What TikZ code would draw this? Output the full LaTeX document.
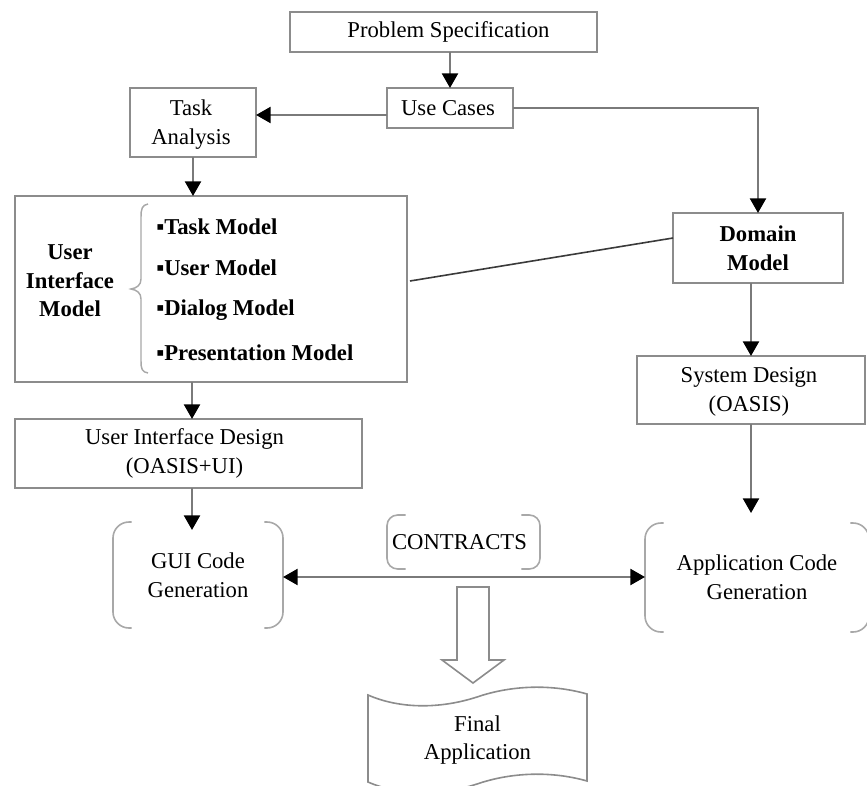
\documentclass[tikz,border=0pt]{standalone}
\usepackage{fontspec}
\setmainfont{Liberation Serif}
\usetikzlibrary{arrows.meta,fit,calc}

\definecolor{boxgray}{HTML}{8C8C8C}
\definecolor{linegray}{HTML}{7A7A7A}
\definecolor{bracketgray}{HTML}{A8A8A8}
\definecolor{linkgray}{HTML}{3A3A3A}

\newcommand\diagfont{\fontsize{17pt}{21.5pt}\selectfont}

\begin{document}
\begin{tikzpicture}[x=0.75pt,y=-0.75pt,
  box/.style={draw=boxgray, line width=1.3pt, inner sep=0pt, outer sep=0pt},
  openbox/.style={inner sep=0pt, outer sep=0pt},
  label/.style={inner sep=0pt, align=center, font=\diagfont},
  flow/.style={draw=linegray, line width=1.8pt,
    -{Triangle[width=12pt,length=11pt,color=black]}},
  twoway/.style={draw=linegray, line width=1.8pt,
    {Triangle[width=12pt,length=11pt,color=black]}-{Triangle[width=12pt,length=11pt,color=black]}},
  link/.style={draw=linkgray, line width=1.2pt},
  bracket/.style={draw=bracketgray, line width=1.2pt, rounded corners=12pt},
  smallbracket/.style={draw=bracketgray, line width=1.2pt, rounded corners=8pt},
  outline/.style={draw=boxgray, line width=1.2pt, fill=white}
]
\useasboundingbox (0,0) rectangle (867,785);

% ---- boxes ----
\node[box, fit={(290,12) (597,52)}] (ps) {};
\node[box, fit={(387,88) (513,128)}] (uc) {};
\node[box, fit={(130,88) (256,157)}] (ta) {};
\node[box, fit={(15,196) (407,382)}] (uim) {};
\node[box, fit={(673,213) (843,283)}] (dm) {};
\node[box, fit={(637,356) (865,424)}] (sd) {};
\node[box, fit={(15,419) (362,488)}] (uid) {};

\node[label] (pst) at ($(ps.center)+(5,0)$) {Problem Specification};
\node[label] (uct) at ($(uc.center)+(-2,0)$) {Use Cases};
\node[label] (tat) at ($(ta.center)+(-2,2)$) {Task\\Analysis};
\node[label, font=\diagfont\bfseries] (dmt) at (dm.center) {Domain\\Model};
\node[label] (sdt) at ($(sd.center)+(-2,2)$) {System Design\\(OASIS)};
\node[label] (uidt) at ($(uid.center)+(-4,0)$) {User Interface Design\\(OASIS+UI)};

% ---- contents of the user interface model ----
\node[label, font=\diagfont\bfseries] (uimt) at (70,281) {User\\Interface\\Model};
\draw[draw=bracketgray, line width=1.1pt]
  (148,204) .. controls (142,205) and (141,209) .. (141,217)
  -- (141,279) .. controls (141,285) and (137,288) .. (131,289)
  .. controls (137,290) and (141,293) .. (141,299)
  -- (141,361) .. controls (141,369) and (142,372) .. (148,373);
\node[label, anchor=west, font=\diagfont\bfseries] (m1) at (156,227) {▪Task Model};
\node[label, anchor=west, font=\diagfont\bfseries] (m2) at (156,268) {▪User Model};
\node[label, anchor=west, font=\diagfont\bfseries] (m3) at (156,310) {▪Dialog Model};
\node[label, anchor=west, font=\diagfont\bfseries] (m4) at (156,353) {▪Presentation Model};

% ---- code generation blocks (side brackets only) ----
\node[openbox, fit={(113,522) (283,628)}] (gui) {};
\node[openbox, fit={(645,523) (869,632)}] (app) {};
\node[openbox, fit={(387,515) (540,569)}] (ct) {};
\foreach \n/\s in {gui/bracket, app/bracket, ct/smallbracket}{
  \draw[\s] ([xshift=14pt]\n.north west) -- (\n.north west)
    -- (\n.south west) -- ([xshift=14pt]\n.south west);
  \draw[\s] ([xshift=-14pt]\n.north east) -- (\n.north east)
    -- (\n.south east) -- ([xshift=-14pt]\n.south east);
}
\node[label] (guit) at (gui.center) {GUI Code\\Generation};
\node[label] (appt) at (app.center) {Application Code\\Generation};
\node[label] (ctt) at ($(ct.center)+(-4,0)$) {CONTRACTS};

% ---- final application (punched tape) ----
\draw[outline]
  (368,695) .. controls (400,709) and (440,709) .. (477,697)
  .. controls (512,685) and (552,684) .. (587,694)
  -- (587,781) .. controls (552,771) and (512,772) .. (477,784)
  .. controls (440,796) and (400,796) .. (368,782) -- cycle;
\node[openbox, fit={(368,700) (587,780)}] (fa) {};
\node[label] (fat) at (fa.center) {Final\\Application};

% ---- block arrow from contracts to the final application ----
\draw[outline] (457,587) -- (489,587) -- (489,660) -- (504,660)
  -- (473,683) -- (442,660) -- (457,660) -- cycle;

% ---- connectors ----
\draw[flow] (uc.north |- ps.south) -- (uc.north);
\coordinate (ucw) at ($(uc.west)+(0,7)$);
\draw[flow] (ucw) -- (ucw -| ta.east);
\draw[flow] (uc.east) -| (dm.north);
\draw[flow] (ta.south) -- (ta.south |- uim.north);
\draw[link] ($(uim.east)+(3,-8)$) -- ($(dm.west)+(0,-10)$);
\coordinate (gx) at ($(ta.south)+(-1,0)$);
\draw[flow] (gx |- uim.south) -- (gx |- uid.north);
\coordinate (guitop) at (gx |- 0,530);
\draw[flow] (gx |- uid.south) -- (guitop);
\draw[flow] (dm.south -| sd.north) -- (sd.north);
\coordinate (apptop) at (sd.south |- 0,513);
\draw[flow] (sd.south) -- (apptop);
\draw[twoway] (gui.east |- 0,577) -- (app.west |- 0,577);
\end{tikzpicture}
\end{document}
